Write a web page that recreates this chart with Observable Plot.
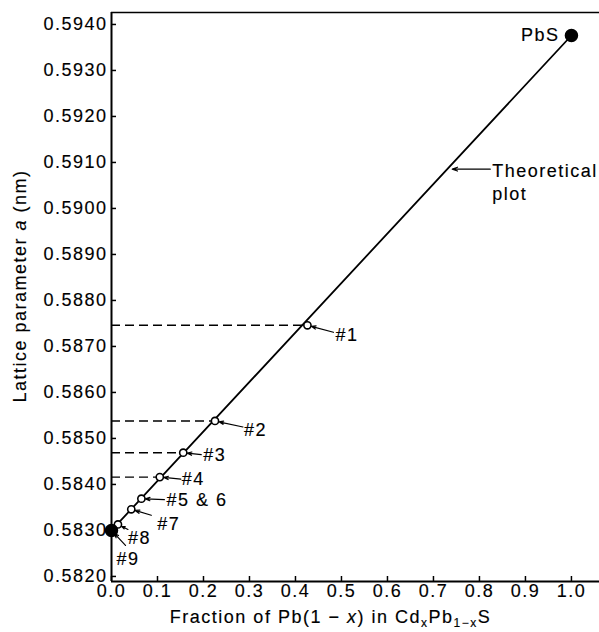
<!DOCTYPE html>
<html><head><meta charset="utf-8">
<script src="https://cdn.jsdelivr.net/npm/d3@7"></script>
<script src="https://cdn.jsdelivr.net/npm/@observablehq/plot@0.6"></script>
<style>
body{margin:0;background:#fff}
svg{font-family:"Liberation Sans",Arial,Helvetica,sans-serif}
svg text{stroke:#000;stroke-width:0.15px;fill:#000}
</style>
</head><body><div id="chart"></div>
<script>
// ---- data ----
const sampleLabels   = ["#1", "#2", "#3", "#4", "#5 & 6", "#7", "#8"];
const sampleFraction = [0.426, 0.225, 0.156, 0.105, 0.065, 0.043, 0.014];
const sampleLattice  = [0.58746, 0.58538, 0.58469, 0.58416, 0.58369, 0.58346, 0.58313];
const dashedSamples  = ["#1", "#2", "#3", "#4"];
const endLabels   = ["#9", "PbS"];
const endFraction = [0.0, 1.0];
const endLattice  = [0.5830, 0.59376];
const xTicks = [0.0, 0.1, 0.2, 0.3, 0.4, 0.5, 0.6, 0.7, 0.8, 0.9, 1.0];
const yTicks = [0.5820, 0.5830, 0.5840, 0.5850, 0.5860, 0.5870, 0.5880, 0.5890, 0.5900, 0.5910, 0.5920, 0.5930, 0.5940];
const theoryLabelFraction = 0.73;

// ---- layout ----
const W = 599, H = 632;
const M = {top: 12, right: 0, bottom: 51, left: 111};
const xDomain = [0, 1.061];
const yDomain = [0.58189, 0.59426];
const kx = (W - M.left - M.right) / (xDomain[1] - xDomain[0]);
const ky = (H - M.top - M.bottom) / (yDomain[1] - yDomain[0]);
// label / arrow offsets in px: [textDx, textDy, arrowDx, arrowDy, anchor]
const labelLayout = {
  "#1": [28, 10, 26, 7, "start"],
  "#2": [29, 9, 28, 6, "start"],
  "#3": [20, 3, 18, 2, "start"],
  "#4": [22, 2, 21, 2, "start"],
  "#5 & 6": [25, 2, 23, 1, "start"],
  "#7": [26, 15, 20, 6, "start"],
  "#8": [10, 14, 10, 5, "start"],
  "#9": [5, 29, 14, 15, "start"],
  "PbS": [-12, 0, 0, 0, "end"]
};

const samples = sampleLabels.map((l, i) => ({label: l, x: sampleFraction[i], y: sampleLattice[i]}));
const ends = endLabels.map((l, i) => ({label: l, x: endFraction[i], y: endLattice[i]}));
const dashed = samples.filter(d => dashedSamples.includes(d.label));
const labelled = [...samples, ends[0], ends[1]].map(d => {
  const L = labelLayout[d.label];
  return {...d, tx: d.x + L[0] / kx, ty: d.y - L[1] / ky, ax: d.x + L[2] / kx, ay: d.y - L[3] / ky, anchor: L[4], hasArrow: L[2] !== 0 || L[3] !== 0};
});
const arrows = labelled.filter(d => d.hasArrow);
const slope = (endLattice[1] - endLattice[0]) / (endFraction[1] - endFraction[0]);
const theory = [{x: theoryLabelFraction, y: endLattice[0] + slope * (theoryLabelFraction - endFraction[0])}];

const fontSize = 18;
const chart = Plot.plot({
  width: W, height: H,
  marginTop: M.top, marginRight: M.right, marginBottom: M.bottom, marginLeft: M.left,
  style: {fontSize: fontSize + "px", fontFamily: '"Liberation Sans",Arial,sans-serif', letterSpacing: "1.5px", background: "#fff", color: "#000"},
  x: {domain: xDomain},
  y: {domain: yDomain},
  marks: [
    Plot.axisX({ticks: xTicks, tickFormat: d3.format(".1f"), tickSize: -5, tickPadding: 8, label: null, strokeWidth: 1.5, fontSize: fontSize}),
    Plot.axisY({ticks: yTicks, tickFormat: d3.format(".4f"), tickSize: -5, tickPadding: 9, label: null, strokeWidth: 1.5, fontSize: fontSize}),
    Plot.ruleX([xDomain[0]], {stroke: "#000", strokeWidth: 2}),
    Plot.ruleY([yDomain[0]], {stroke: "#000", strokeWidth: 2}),
    Plot.ruleY([yDomain[1]], {stroke: "#000", strokeWidth: 1.6}),
    Plot.ruleY(dashed, {x1: xDomain[0], x2: "x", y: "y", stroke: "#000", strokeWidth: 1.4, strokeDasharray: "9,5"}),
    Plot.line(ends, {x: "x", y: "y", stroke: "#000", strokeWidth: 1.8}),
    Plot.arrow(arrows, {
      x1: "ax", y1: "ay", x2: "x", y2: "y",
      insetEnd: 4, headLength: 6, headAngle: 40, stroke: "#000", strokeWidth: 1.2
    }),
    Plot.arrow(theory, {
      x1: d => d.x + 43 / kx, y1: "y", x2: d => d.x + 5 / kx, y2: "y",
      headLength: 7, headAngle: 40, stroke: "#000", strokeWidth: 1.2
    }),
    Plot.dot(samples, {x: "x", y: "y", r: 3.6, fill: "#fff", stroke: "#000", strokeWidth: 1.6}),
    Plot.dot(ends, {x: "x", y: "y", r: 6, fill: "#000", stroke: "#000"}),
    Plot.text(labelled.filter(d => d.anchor === "start"), {x: "tx", y: "ty", text: "label", textAnchor: "start", fill: "#000", fontSize: fontSize}),
    Plot.text(labelled.filter(d => d.anchor === "end"), {x: "tx", y: "ty", text: "label", textAnchor: "end", fill: "#000", fontSize: fontSize}),
    Plot.text(theory, {x: d => d.x + 45 / kx, y: "y", text: () => "Theoretical\nplot", dy: 12, lineHeight: 1.28, textAnchor: "start", fill: "#000", fontSize: fontSize}),
    Plot.text(["LATTICE_LABEL"], {frameAnchor: "left", textAnchor: "middle", rotate: -90, dx: -91, dy: -11, fill: "#000", fontSize: fontSize}),
    Plot.text(["FRACTION_LABEL"], {frameAnchor: "bottom", textAnchor: "middle", dx: -25, dy: 41, fill: "#000", fontSize: fontSize})
  ]
});

document.getElementById("chart").appendChild(chart);

const svg = d3.select(chart);
// rich text for axis labels
svg.selectAll("text").each(function() {
  const t = d3.select(this);
  const s = this.textContent;
  if (s === "LATTICE_LABEL") {
    t.text("");
    t.append("tspan").text("Lattice parameter ");
    t.append("tspan").attr("font-style", "italic").text("a");
    t.append("tspan").text(" (nm)");
  } else if (s === "FRACTION_LABEL") {
    t.text("");
    t.append("tspan").text("Fraction of Pb(1 \u2212 ");
    t.append("tspan").attr("font-style", "italic").text("x");
    t.append("tspan").text(") in Cd");
    t.append("tspan").attr("font-size", "12px").attr("dy", "4").text("x");
    t.append("tspan").attr("dy", "-4").text("Pb");
    t.append("tspan").attr("font-size", "12px").attr("dy", "4").text("1\u2212x");
    t.append("tspan").attr("dy", "-4").text("S");
  }
});
</script>
</body></html>
